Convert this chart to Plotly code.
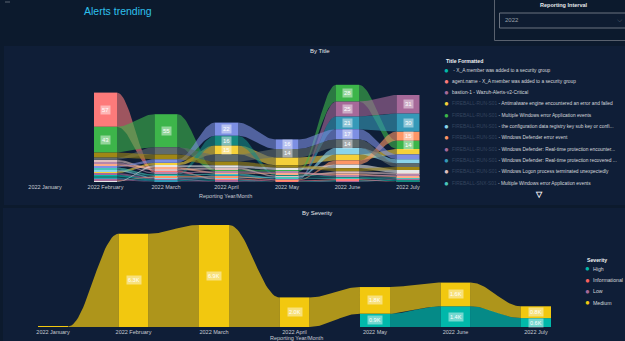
import math
import plotly.graph_objects as go

W, H = 625, 341

months = ["2022 January", "2022 February", "2022 March", "2022 April",
          "2022 May", "2022 June", "2022 July"]

# ---- By Title (ribbon chart) ----
title_names = [
    " - X_A member was added to a security group",
    "agent.name - X_A member was added to a security group",
    "bastion-1 - Wazuh-Alerts-v2-Critical",
    "FIREBALL-RUN-S01 - Antimalware engine encountered an error and failed",
    "FIREBALL-RUN-S01 - Multiple Windows error Application events",
    "FIREBALL-RUN-S01 - the configuration data registry key sub key or confi...",
    "FIREBALL-RUN-S01 - Windows Defender error event",
    "FIREBALL-RUN-S01 - Windows Defender: Real-time protection encounter...",
    "FIREBALL-RUN-S01 - Windows Defender: Real-time protection recovered ...",
    "FIREBALL-RUN-S01 - Windows Logon process terminated unexpectedly",
    "FIREBALL-SNX-S01 - Multiple Windows error Application events",
    "FIREBALL-SNX-S01 - Windows Defender error event",
    "FIREBALL-SNX-S01 - Windows Logon process terminated unexpectedly",
    "FIREBALL-SNX-S01 - Windows Defender: Real-time protection recovered ...",
    "FIREBALL-WEB-S01 - Multiple Windows error Application events",
    "FIREBALL-WEB-S01 - Windows Defender error event",
    "FIREBALL-WEB-S01 - Windows Logon process terminated unexpectedly",
    "FIREBALL-WEB-S01 - Antimalware engine encountered an error and failed",
]
title_colors = [
    "#01B8AA", "#FD7A7A", "#A66999", "#F5D03A", "#3DB54A", "#8AD4EB",
    "#FE9666", "#A66999", "#3599B8", "#DFBFBF", "#4AC5BB",
    "#7D8FE3", "#5F6B6D", "#168980", "#FDAB89", "#B687AC", "#E6E6E6", "#A08715",
]
title_values = [
    [0, 3, 2, 2, 1, 2, 2],
    [0, 57, 3, 2, 1, 2, 1],
    [0, 3, 2, 1, 1, 1, 2],
    [0, 3, 4, 15, 13, 10, 9],
    [0, 43, 55, 3, 3, 28, 14],
    [0, 3, 2, 2, 2, 11, 7],
    [0, 2, 2, 2, 1, 7, 15],
    [0, 2, 1, 1, 1, 25, 31],
    [0, 2, 1, 2, 1, 21, 30],
    [0, 4, 3, 3, 2, 4, 3],
    [0, 3, 2, 2, 1, 2, 2],
    [0, 3, 6, 22, 16, 17, 8],
    [0, 4, 12, 12, 14, 14, 6],
    [0, 2, 2, 16, 2, 2, 1],
    [0, 3, 3, 2, 2, 3, 2],
    [0, 3, 2, 2, 2, 2, 2],
    [0, 1, 3, 4, 4, 6, 5],
    [0, 8, 8, 6, 4, 5, 5],
]
legend_count = 11

# ---- By Severity (ribbon chart, thousands) ----
sev_names = ["High", "Informational", "Low", "Medium"]
sev_colors = ["#01B8AA", "#FD625E", "#A66999", "#F2C80F"]
sev_values = [
    [0, 0, 0, 0, 0.9, 1.4, 0.6],
    [0, 0, 0, 0, 0, 0, 0],
    [0, 0, 0, 0, 0, 0, 0],
    [0.03, 6.3, 6.9, 2.0, 1.8, 1.6, 0.8],
]

PAGE_BG = "#0c1a2d"
PANEL_BG = "#0f1e37"
TXT = "#c8ccd3"
FONT = "Liberation Sans"


def px(x):
    return x / W


def py(y):
    return 1 - y / H


def rgba(hexc, a):
    h = hexc.lstrip("#")
    r, g, b = int(h[0:2], 16), int(h[2:4], 16), int(h[4:6], 16)
    return f"rgba({r},{g},{b},{a})"


def stack(vals):
    nm = len(vals[0])
    bases = [[None] * nm for _ in vals]
    for m in range(nm):
        order = sorted([c for c in range(len(vals)) if vals[c][m] > 0],
                       key=lambda c: vals[c][m])
        y = 0
        for c in order:
            bases[c][m] = y
            y += vals[c][m]
    return bases


fig = go.Figure()


def ribbon_chart(vals, colors, bases, xa, ya, bw, op):
    n = 30
    for c in range(len(vals)):
        for m in range(len(months) - 1):
            v0, v1 = vals[c][m], vals[c][m + 1]
            if v0 <= 0 or v1 <= 0:
                continue
            b0, b1 = bases[c][m], bases[c][m + 1]
            t0, t1 = b0 + v0, b1 + v1
            x0, x1 = m + bw / 2, m + 1 - bw / 2
            xs, ys = [], []
            for k in range(n + 1):
                t = k / n
                s = 0.5 - 0.5 * math.cos(math.pi * t)
                xs.append(x0 + (x1 - x0) * t)
                ys.append(t0 + (t1 - t0) * s)
            for k in range(n, -1, -1):
                t = k / n
                s = 0.5 - 0.5 * math.cos(math.pi * t)
                xs.append(x0 + (x1 - x0) * t)
                ys.append(b0 + (b1 - b0) * s)
            fig.add_trace(go.Scatter(
                x=xs, y=ys, mode="lines", fill="toself",
                fillcolor=rgba(colors[c], op), line=dict(width=0),
                xaxis=xa, yaxis=ya, hoverinfo="skip", showlegend=False))
    for c in range(len(vals)):
        xm = [m for m in range(len(months)) if vals[c][m] > 0]
        fig.add_trace(go.Bar(
            x=xm, y=[vals[c][m] for m in xm], base=[bases[c][m] for m in xm],
            width=bw, marker=dict(color=colors[c], line=dict(width=0)),
            xaxis=xa, yaxis=ya, showlegend=False, hoverinfo="skip"))


tb = stack(title_values)
ribbon_chart(title_values, title_colors, tb, "x", "y", 0.38, 0.6)
sb = stack(sev_values)
ribbon_chart(sev_values, sev_colors, sb, "x2", "y2", 0.373, 0.7)

annotations = []
# data labels
for c in range(len(title_values)):
    for m in range(len(months)):
        v = title_values[c][m]
        if v >= 14:
            annotations.append(dict(
                x=m, y=tb[c][m] + v / 2, xref="x", yref="y", text=str(v),
                showarrow=False, bgcolor="rgba(255,255,255,0.45)", borderpad=1,
                font=dict(size=6, color="#ffffff", family=FONT)))
for c in range(len(sev_values)):
    for m in range(len(months)):
        v = sev_values[c][m]
        if v >= 0.5:
            annotations.append(dict(
                x=m, y=sb[c][m] + v / 2, xref="x2", yref="y2", text=f"{v:.1f}K",
                showarrow=False, bgcolor="rgba(255,255,255,0.45)", borderpad=1,
                font=dict(size=5.5, color="#ffffff", family=FONT)))


def ptext(x, y, text, size=5.5, color=TXT, xanchor="left", bold=False):
    if bold:
        text = f"<b>{text}</b>"
    annotations.append(dict(x=px(x), y=py(y), xref="paper", yref="paper",
                            text=text, showarrow=False, xanchor=xanchor,
                            yanchor="middle",
                            font=dict(size=size, color=color, family=FONT)))


# titles
ptext(82, 11.5, "Alerts trending", size=10.5, color="#2ec0ee")
ptext(564, 5.5, "Reporting Interval", size=5.5, color="#e6e8eb",
      xanchor="center", bold=True)
ptext(503, 20.5, "2022", size=6, color="#9aa0a8")
ptext(620, 20, "⌵", size=7, color="#9aa0a8", xanchor="center")
ptext(320, 51, "By Title", size=6, color="#e6e8eb", xanchor="center")
ptext(317, 213, "By Severity", size=6, color="#e6e8eb", xanchor="center")
ptext(226, 196, "Reporting Year/Month", size=5.5, xanchor="center")
ptext(296, 337.5, "Reporting Year/Month", size=5.5, xanchor="center")

# legend: By Title
ptext(444, 61, "Title Formatted", size=5.2, color="#f0f2f4", bold=True)
leg_y = [70, 81.3, 92.6, 103.9, 115.2, 126.5, 137.8, 149.1, 160.4, 171.7, 183]
for i in range(legend_count):
    ptext(446.5, leg_y[i], "●", size=8, color=title_colors[i], xanchor="center")
    name = title_names[i]
    if name.startswith("FIREBALL"):
        pre, rest = name.split(" - ", 1)
        txt = f"<span style='color:#34445e'>{pre}</span> - {rest}"
    else:
        txt = name
    ptext(450, leg_y[i], txt, size=4.85, color="#d6d9de")
ptext(539, 194, "▽", size=8, color="#ffffff", xanchor="center", bold=True)

# legend: By Severity
ptext(585, 260, "Severity", size=5.2, color="#f0f2f4", bold=True)
sev_leg_y = [268.5, 280, 291.3, 302.6]
for i, nm in enumerate(sev_names):
    ptext(587.5, sev_leg_y[i], "●", size=8, color=sev_colors[i], xanchor="center")
    ptext(591, sev_leg_y[i], nm, size=5.2, color="#d6d9de")

shapes = [
    dict(type="rect", xref="paper", yref="paper", x0=px(4), x1=px(626),
         y0=py(205), y1=py(46), fillcolor=PANEL_BG, line=dict(width=0), layer="below"),
    dict(type="rect", xref="paper", yref="paper", x0=px(3), x1=px(626),
         y0=py(342), y1=py(208), fillcolor=PANEL_BG, line=dict(width=0), layer="below"),
    dict(type="rect", xref="paper", yref="paper", x0=px(494.5), x1=px(627),
         y0=py(40.5), y1=py(-2), fillcolor=PAGE_BG,
         line=dict(width=1, color="#59616e"), layer="below"),
    dict(type="rect", xref="paper", yref="paper", x0=px(499.5), x1=px(627),
         y0=py(28), y1=py(13), fillcolor="#0e1c31",
         line=dict(width=1, color="#6b7380"), layer="below"),
    dict(type="line", xref="paper", yref="paper", x0=px(5), x1=px(10),
         y0=py(2), y1=py(2), line=dict(width=1, color="#5b6472")),
]

axis_common = dict(showgrid=False, zeroline=False, showline=False, ticks="",
                   tickmode="array", tickvals=list(range(len(months))),
                   ticktext=months, fixedrange=True,
                   tickfont=dict(size=5.5, color=TXT, family=FONT))

fig.update_layout(
    width=W, height=H, margin=dict(l=0, r=0, t=0, b=0),
    paper_bgcolor=PAGE_BG, plot_bgcolor="rgba(0,0,0,0)",
    barmode="overlay", showlegend=False,
    xaxis=dict(domain=[0, px(440)], range=[-45 / 60.5, 395 / 60.5],
               anchor="y", **axis_common),
    yaxis=dict(domain=[py(182), py(60)], range=[0, 122 / 0.6], visible=False,
               anchor="x"),
    xaxis2=dict(domain=[0, px(570)], range=[-53 / 80.5, 517 / 80.5],
                anchor="y2", **axis_common),
    yaxis2=dict(domain=[py(327), py(215)], range=[0, 112 / 14.8], visible=False,
                anchor="x2"),
    annotations=annotations, shapes=shapes,
)

fig.write_html("out.html")
